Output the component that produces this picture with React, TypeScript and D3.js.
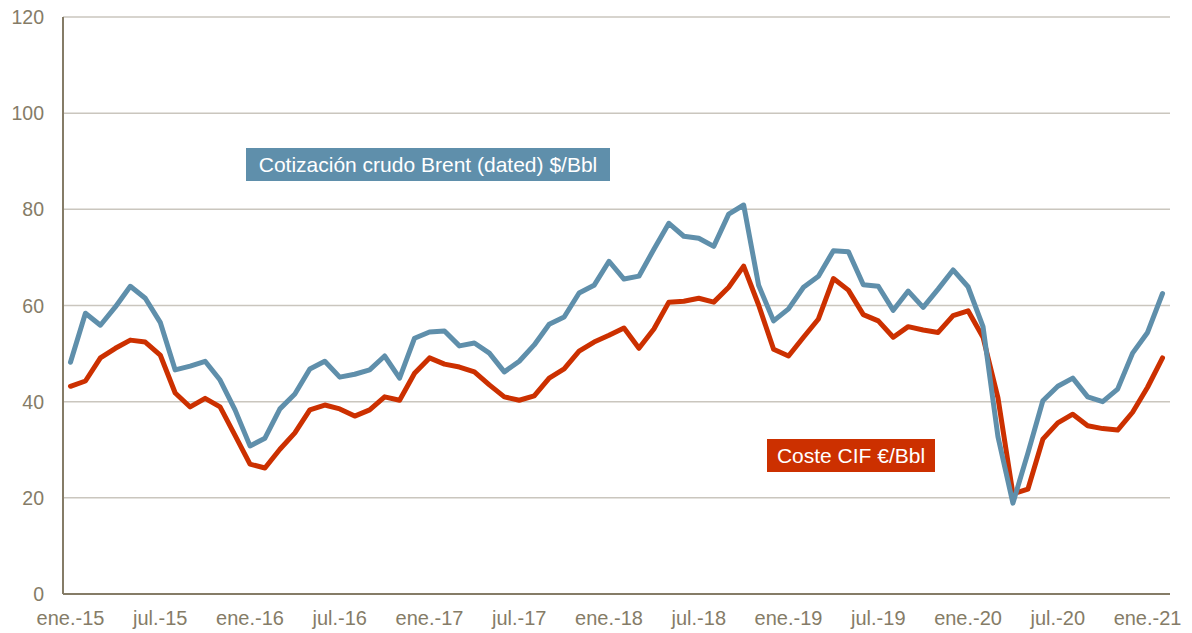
import React from "react";
import * as d3 from "d3";

const monthNames = ["ene.", "feb.", "mar.", "abr.", "may.", "jun.", "jul.", "ago.", "sep.", "oct.", "nov.", "dic."];
const years = ["15", "16", "17", "18", "19", "20", "21"];
const categories: string[] = [];
years.forEach((yy) => monthNames.forEach((m) => categories.push(`${m}-${yy}`)));
const months = categories.slice(0, 74); // ene.-15 .. feb.-21

const tickLabels = ["ene.-15", "jul.-15", "ene.-16", "jul.-16", "ene.-17", "jul.-17", "ene.-18", "jul.-18", "ene.-19", "jul.-19", "ene.-20", "jul.-20", "ene.-21"];
const yTicks = [0, 20, 40, 60, 80, 100, 120];

const brent = [
  48.2, 58.4, 55.9, 59.7, 64.0, 61.5, 56.5, 46.6, 47.4, 48.4, 44.5, 38.3,
  30.8, 32.4, 38.5, 41.6, 46.8, 48.4, 45.1, 45.7, 46.6, 49.5, 44.9, 53.2,
  54.5, 54.7, 51.6, 52.2, 50.1, 46.2, 48.4, 51.8, 56.1, 57.6, 62.6, 64.2,
  69.2, 65.5, 66.1, 71.7, 77.1, 74.4, 74.0, 72.3, 79.0, 80.9, 64.2, 56.8,
  59.3, 63.8, 66.1, 71.4, 71.2, 64.3, 64.0, 59.0, 63.0, 59.6, 63.4, 67.4,
  63.9, 55.6, 32.7, 18.9, 29.3, 40.2, 43.2, 44.9, 41.0, 40.0, 42.6, 50.1,
  54.4, 62.5,
];

const cifCost = [
  43.2, 44.3, 49.1, 51.1, 52.8, 52.4, 49.7, 41.8, 38.9, 40.7, 38.9, 33.0,
  27.0, 26.2, 30.1, 33.5, 38.3, 39.3, 38.5, 37.0, 38.3, 41.0, 40.3, 45.9,
  49.1, 47.8, 47.2, 46.2, 43.5, 41.0, 40.3, 41.2, 44.9, 46.8, 50.5, 52.4,
  53.8, 55.3, 51.1, 55.1, 60.7, 60.9, 61.5, 60.7, 63.8, 68.2, 60.1, 50.9,
  49.5, 53.4, 57.2, 65.6, 63.2, 58.1, 56.8, 53.4, 55.6, 54.9, 54.4, 57.9,
  58.9, 53.4, 40.8, 20.8, 21.8, 32.2, 35.6, 37.4, 35.0, 34.4, 34.1, 37.8,
  43.0, 49.1,
];

const W = 1192;
const H = 633;
const left = 63;
const right = 1170;
const top = 17;
const bottom = 594;

const axisColor = "#857c67";
const textColor = "#857c67";
const gridColor = "#cac6be";
const blue = "#5f8fab";
const red = "#cc3000";
const font = "'Liberation Sans', Arial, sans-serif";

export default function App() {
  const x = d3.scaleBand<string>().domain(months).range([left, right]).padding(0);
  const y = d3.scaleLinear().domain([0, 120]).range([bottom, top]);
  const cx = (c: string) => (x(c) as number) + x.bandwidth() / 2;

  const line = d3
    .line<number>()
    .x((_, i) => cx(months[i]))
    .y((d) => y(d));

  return (
    <svg width={W} height={H} style={{ position: "absolute", left: 0, top: 0, background: "#fff" }}>
      {yTicks.filter((t) => t > 0).map((t) => (
        <line key={t} x1={left} x2={right} y1={y(t)} y2={y(t)} stroke={gridColor} strokeWidth={1.5} />
      ))}
      {yTicks.map((t) => (
        <text key={t} x={44} y={y(t)} dy="0.36em" textAnchor="end" fontFamily={font} fontSize={19.5} fill={textColor}>
          {t}
        </text>
      ))}
      {tickLabels.map((t) => (
        <text key={t} x={cx(t)} y={625} textAnchor="middle" fontFamily={font} fontSize={20} fill={textColor}>
          {t}
        </text>
      ))}
      <line x1={left} x2={left} y1={top} y2={bottom} stroke={axisColor} strokeWidth={2} />
      <line x1={left} x2={right} y1={bottom} y2={bottom} stroke={axisColor} strokeWidth={2} />

      <path d={line(cifCost) || ""} fill="none" stroke={red} strokeWidth={5} strokeLinejoin="round" strokeLinecap="round" />
      <path d={line(brent) || ""} fill="none" stroke={blue} strokeWidth={5} strokeLinejoin="round" strokeLinecap="round" />

      <rect x={246} y={148} width={364} height={33} fill={blue} />
      <text x={428} y={164.5} dy="0.36em" textAnchor="middle" fontFamily={font} fontSize={21} fill="#fff">
        Cotización crudo Brent (dated) $/Bbl
      </text>

      <rect x={767} y={439} width={168} height={33} fill={red} />
      <text x={851} y={455.5} dy="0.36em" textAnchor="middle" fontFamily={font} fontSize={21} fill="#fff">
        Coste CIF €/Bbl
      </text>
    </svg>
  );
}
